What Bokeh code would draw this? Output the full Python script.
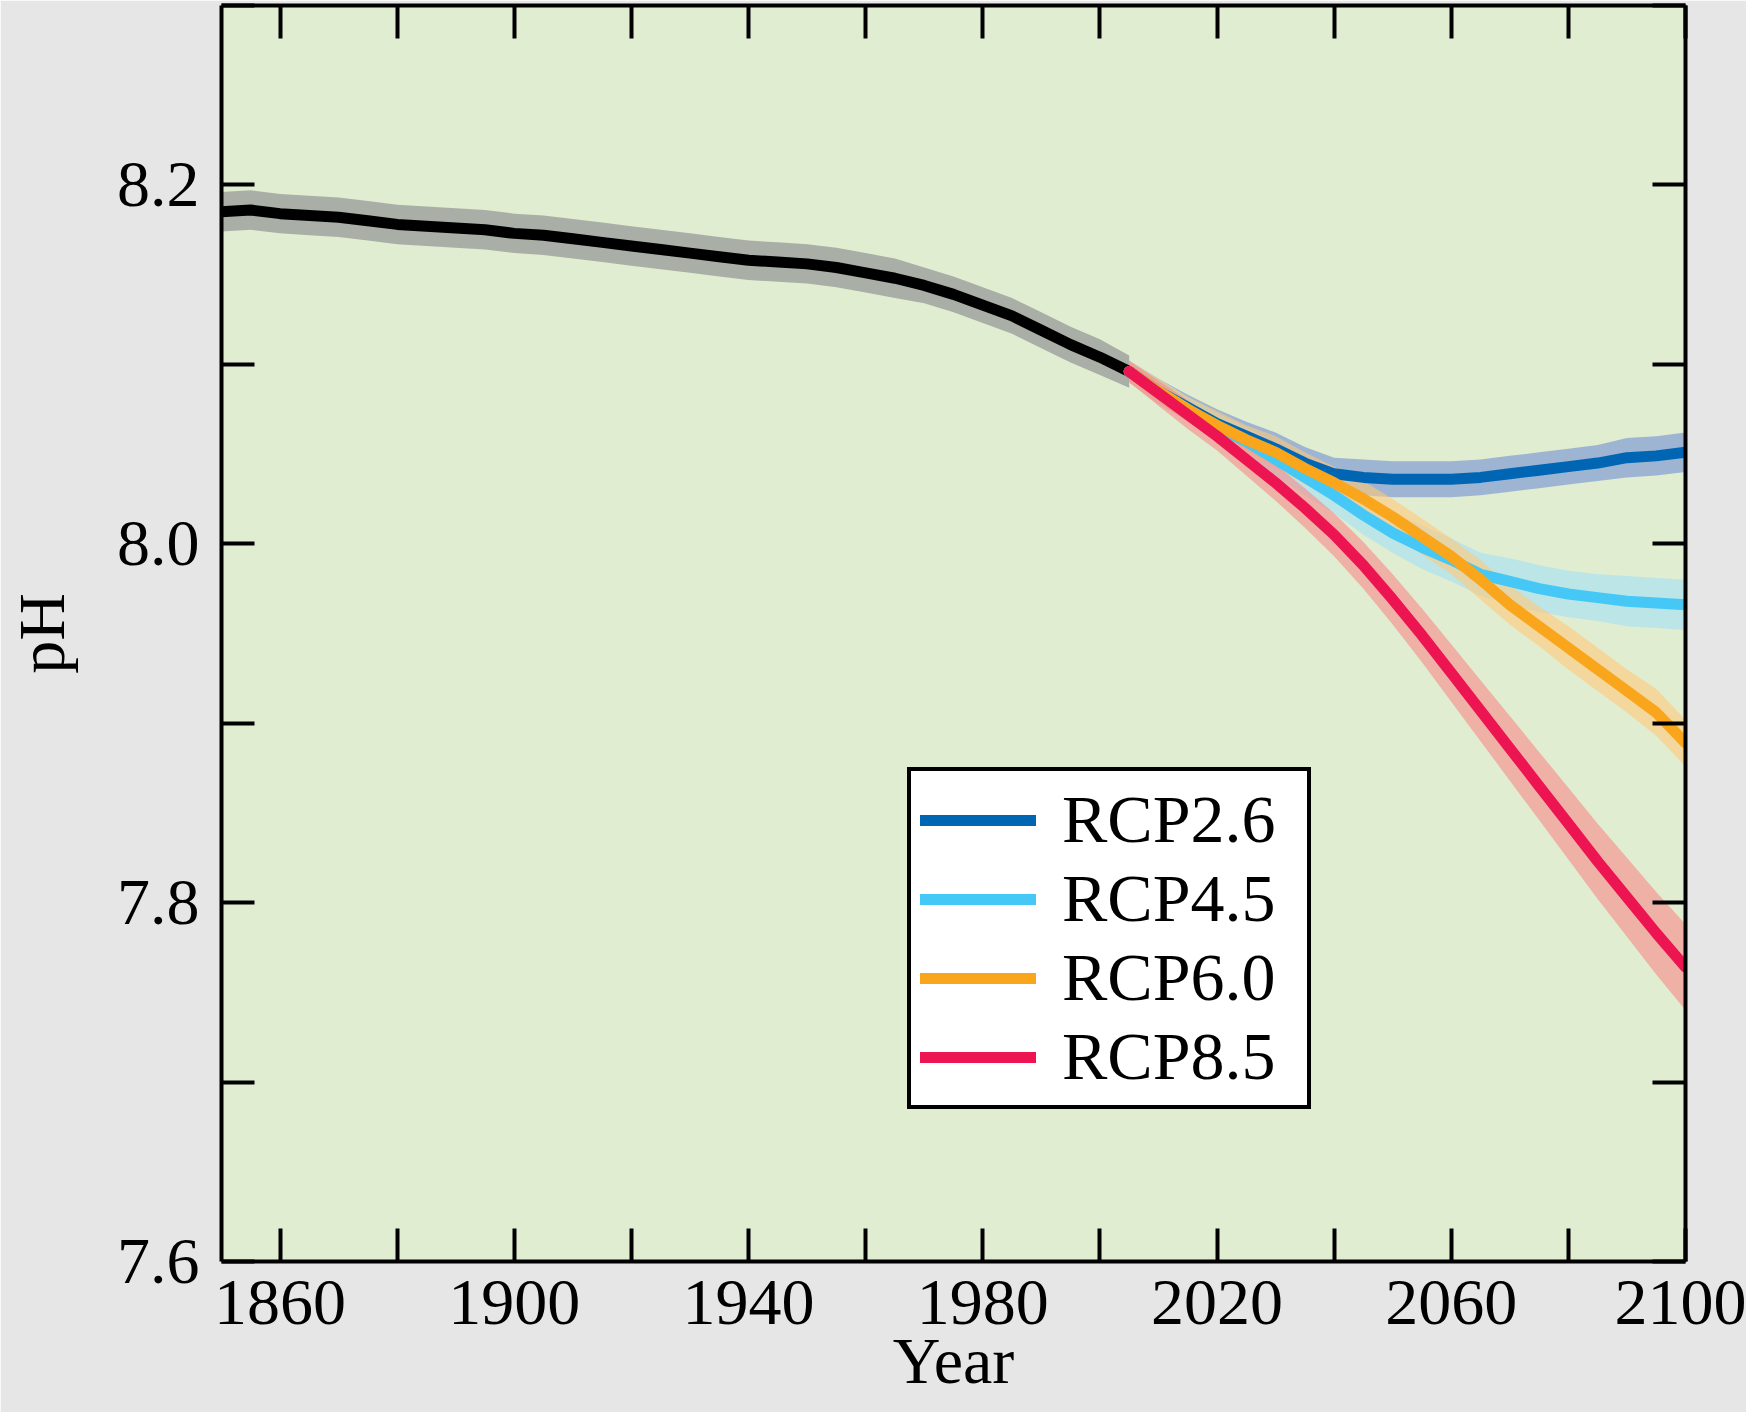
from bokeh.plotting import figure
from bokeh.models import (Range1d, FixedTicker, LinearAxis, PrintfTickFormatter,
                          Legend, LegendItem)
from bokeh.embed import file_html
from bokeh.resources import INLINE

# ---------------- data ----------------
hist_years = list(range(1850, 2006, 5))
hist_ph = [8.185, 8.186, 8.184, 8.183, 8.182, 8.180, 8.178, 8.177, 8.176, 8.175,
           8.173, 8.172, 8.170, 8.168, 8.166, 8.164, 8.162, 8.160, 8.158, 8.157,
           8.156, 8.154, 8.151, 8.148, 8.144, 8.139, 8.133, 8.127, 8.119, 8.111,
           8.104, 8.096]
hist_spread = [0.011, 0.011, 0.011, 0.011, 0.011, 0.011, 0.011, 0.011, 0.011, 0.011,
               0.011, 0.011, 0.011, 0.011, 0.011, 0.011, 0.011, 0.011, 0.011, 0.011,
               0.011, 0.011, 0.011, 0.011, 0.010, 0.010, 0.010, 0.010, 0.010, 0.010,
               0.010, 0.009]

rcp_years = list(range(2005, 2101, 5))
rcp26 = [8.096, 8.085, 8.076, 8.067, 8.060, 8.053, 8.045, 8.039, 8.037, 8.036,
         8.036, 8.036, 8.037, 8.039, 8.041, 8.043, 8.045, 8.048, 8.049, 8.051]
rcp45 = [8.096, 8.085, 8.075, 8.065, 8.057, 8.047, 8.037, 8.027, 8.016, 8.006,
         7.998, 7.991, 7.983, 7.979, 7.975, 7.972, 7.970, 7.968, 7.967, 7.966]
rcp60 = [8.096, 8.085, 8.075, 8.066, 8.058, 8.051, 8.042, 8.034, 8.025, 8.015,
         8.004, 7.993, 7.980, 7.966, 7.954, 7.942, 7.930, 7.918, 7.906, 7.889]
rcp85 = [8.096, 8.084, 8.072, 8.060, 8.047, 8.034, 8.020, 8.005, 7.988, 7.969,
         7.949, 7.928, 7.907, 7.886, 7.865, 7.844, 7.823, 7.803, 7.783, 7.764]
rcp26_spread = [0.006, 0.007, 0.007, 0.008, 0.008, 0.009, 0.009, 0.009, 0.010, 0.010,
                0.010, 0.010, 0.010, 0.010, 0.010, 0.010, 0.010, 0.011, 0.011, 0.011]
rcp45_spread = [0.006, 0.007, 0.007, 0.008, 0.008, 0.009, 0.010, 0.010, 0.011, 0.011,
                0.012, 0.012, 0.012, 0.013, 0.013, 0.013, 0.013, 0.014, 0.014, 0.014]
rcp60_spread = [0.006, 0.007, 0.007, 0.008, 0.008, 0.009, 0.009, 0.009, 0.010, 0.010,
                0.010, 0.010, 0.011, 0.011, 0.011, 0.012, 0.012, 0.012, 0.013, 0.013]
rcp85_spread = [0.006, 0.007, 0.008, 0.008, 0.009, 0.010, 0.011, 0.012, 0.013, 0.014,
                0.015, 0.016, 0.017, 0.018, 0.019, 0.020, 0.021, 0.022, 0.023, 0.024]

scenario_names = ["RCP2.6", "RCP4.5", "RCP6.0", "RCP8.5"]
x_major = [1860, 1900, 1940, 1980, 2020, 2060, 2100]
x_minor = [1880, 1920, 1960, 2000, 2040, 2080]
y_major = [7.6, 7.8, 8.0, 8.2]
y_minor = [7.7, 7.9, 8.1, 8.3]
x_title = "Year"
y_title = "pH"

# ---------------- styles ----------------
line_colors = ["#0066b3", "#45c8f5", "#f9a61d", "#ec1552"]
band_colors = ["#7090d3", "#a4e0f8", "#ffc879", "#f9898a"]
FONT = "Liberation Serif"

p = figure(width=1746, height=1412,
           x_range=Range1d(1850, 2100), y_range=Range1d(7.6, 8.3),
           output_backend="svg", toolbar_location=None,
           background_fill_color="#e0edd0", border_fill_color="#e6e6e6",
           min_border_left=221, min_border_right=61, min_border_top=5,
           min_border_bottom=151,
           x_axis_label=x_title, y_axis_label=y_title)
p.grid.visible = False
p.outline_line_color = None


def style_axis(ax):
    ax.axis_line_width = 4
    ax.axis_line_color = "black"
    ax.major_tick_in = 33
    ax.major_tick_out = 0
    ax.minor_tick_in = 33
    ax.minor_tick_out = 0
    ax.major_tick_line_width = 4
    ax.minor_tick_line_width = 4
    ax.major_tick_line_color = "black"
    ax.minor_tick_line_color = "black"
    ax.major_label_text_font = FONT
    ax.major_label_text_font_size = "66px"
    ax.major_label_text_color = "black"
    ax.axis_label_text_font = FONT
    ax.axis_label_text_font_style = "normal"
    ax.axis_label_text_font_size = "66px"
    ax.axis_label_text_color = "black"


xax = p.xaxis[0]
xax.ticker = FixedTicker(ticks=x_major, minor_ticks=x_minor)
xax.formatter = PrintfTickFormatter(format="%d")
style_axis(xax)
xax.major_label_standoff = 19
xax.axis_label_standoff = -3

yax = p.yaxis[0]
yax.ticker = FixedTicker(ticks=y_major, minor_ticks=y_minor)
yax.formatter = PrintfTickFormatter(format="%.1f")
style_axis(yax)
yax.major_label_standoff = 22
yax.axis_label_standoff = 36

# top / right frame axes: ticks only (all as minor ticks -> no labels)
top_ax = LinearAxis(ticker=FixedTicker(ticks=[], minor_ticks=x_major + x_minor))
style_axis(top_ax)
top_ax.major_label_standoff = 0
p.add_layout(top_ax, "above")
right_ax = LinearAxis(ticker=FixedTicker(ticks=[], minor_ticks=y_major + y_minor))
style_axis(right_ax)
right_ax.major_label_standoff = 0
p.add_layout(right_ax, "right")

# ---------------- bands ----------------
p.varea(x=hist_years,
        y1=[m - s for m, s in zip(hist_ph, hist_spread)],
        y2=[m + s for m, s in zip(hist_ph, hist_spread)],
        fill_color="#84848c", fill_alpha=0.6)

series = [rcp26, rcp45, rcp60, rcp85]
spreads = [rcp26_spread, rcp45_spread, rcp60_spread, rcp85_spread]
for vals, spr, bc in zip(series, spreads, band_colors):
    p.varea(x=rcp_years,
            y1=[m - s for m, s in zip(vals, spr)],
            y2=[m + s for m, s in zip(vals, spr)],
            fill_color=bc, fill_alpha=0.6)

# ---------------- lines ----------------
p.line(hist_years, hist_ph, line_color="black", line_width=11,
       line_cap="round", line_join="round")

renderers = []
for vals, lc in zip(series, line_colors):
    r = p.line(rcp_years, vals, line_color=lc, line_width=11,
               line_cap="round", line_join="round")
    renderers.append(r)

# ---------------- legend ----------------
legend = Legend(items=[LegendItem(label=n, renderers=[r])
                       for n, r in zip(scenario_names, renderers)],
                location=(686, 152))
legend.border_line_color = "black"
legend.border_line_width = 4
legend.border_line_alpha = 1
legend.background_fill_color = "white"
legend.background_fill_alpha = 1
legend.label_text_font = FONT
legend.label_text_font_size = "68px"
legend.label_text_color = "black"
legend.glyph_width = 116
legend.glyph_height = 40
legend.label_standoff = 26
legend.label_width = 236
legend.padding = 9
legend.spacing = 0
legend.margin = 0
p.add_layout(legend)

open("out.html", "w").write(file_html(p, INLINE))
